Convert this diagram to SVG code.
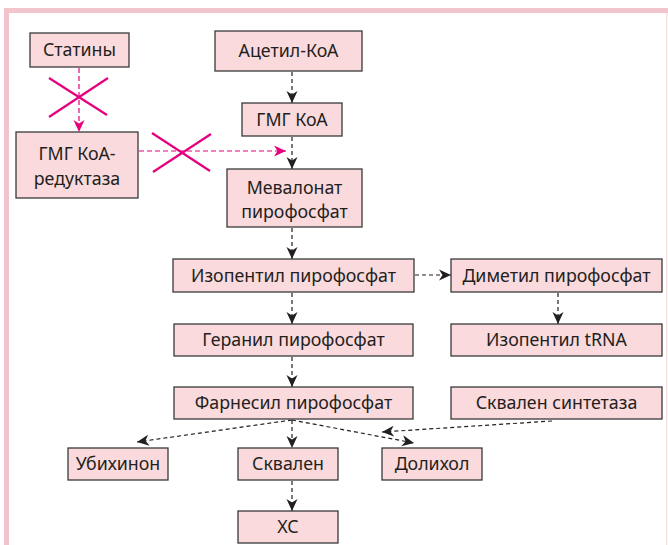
<svg xmlns="http://www.w3.org/2000/svg" width="668" height="545" viewBox="0 0 668 545">
<defs>
<style>
.n rect{fill:#fadadd;stroke:#3a3a3a;stroke-width:1.3}
.n text{font-family:"Noto Sans","Liberation Sans",sans-serif;font-size:17.8px;fill:#231f20;text-anchor:middle}
.c{stroke:#231f20;stroke-width:1.2;stroke-dasharray:4 3;fill:none}
.p{stroke:#e6007e;stroke-width:1.2;stroke-dasharray:5 3;fill:none}
.x{stroke:#e6007e;stroke-width:2.2}
</style>
<marker id="a" markerUnits="userSpaceOnUse" markerWidth="13" markerHeight="13" viewBox="0 0 13 13" refX="12" refY="6.5" orient="auto">
<path d="M0,1 L12,6.5 L0,12 L3.5,6.5 z" fill="#231f20"/>
</marker>
<marker id="ap" markerUnits="userSpaceOnUse" markerWidth="13" markerHeight="13" viewBox="0 0 13 13" refX="12" refY="6.5" orient="auto">
<path d="M0,1 L12,6.5 L0,12 L3.5,6.5 z" fill="#e6007e"/>
</marker>
</defs>
<rect x="0" y="0" width="668" height="545" fill="#fff"/>
<rect x="4" y="8" width="664" height="5" fill="#f2c4cb"/>
<rect x="4" y="8" width="5" height="537" fill="#f2c4cb"/>
<rect x="666" y="13" width="1.5" height="532" fill="#f7dfe2"/>

<g id="connectors">
<line class="c" x1="292" y1="72" x2="292" y2="103" marker-end="url(#a)"/>
<line class="c" x1="292" y1="137" x2="292" y2="169" marker-end="url(#a)"/>
<line class="c" x1="292" y1="228" x2="292" y2="259" marker-end="url(#a)"/>
<line class="c" x1="292" y1="293" x2="292" y2="324" marker-end="url(#a)"/>
<line class="c" x1="292" y1="357" x2="292" y2="387" marker-end="url(#a)"/>
<line class="c" x1="292" y1="420" x2="292" y2="448" marker-end="url(#a)"/>
<line class="c" x1="292" y1="481" x2="292" y2="511" marker-end="url(#a)"/>
<line class="c" x1="415" y1="275" x2="451" y2="275" marker-end="url(#a)"/>
<line class="c" x1="558" y1="293" x2="558" y2="324" marker-end="url(#a)"/>
<line class="c" x1="292" y1="420" x2="137" y2="442" marker-end="url(#a)"/>
<line class="c" x1="292" y1="420" x2="414" y2="443" marker-end="url(#a)"/>
<line class="c" x1="552" y1="421" x2="382" y2="432" marker-end="url(#a)"/>
<line class="p" x1="79" y1="68" x2="79" y2="132" marker-end="url(#ap)"/>
<line class="p" x1="139" y1="151" x2="286" y2="151" marker-end="url(#ap)"/>
<line class="x" x1="49" y1="78" x2="107" y2="115"/>
<line class="x" x1="108" y1="78" x2="49" y2="117"/>
<line class="x" x1="152" y1="133" x2="210" y2="171"/>
<line class="x" x1="211" y1="134" x2="153" y2="172"/>
</g>

<g id="statiny" class="n"><rect x="30" y="33" width="99" height="34"/><text x="79.5" y="56">Статины</text></g>
<g id="acetil" class="n"><rect x="215" y="31" width="147" height="40"/><text x="288.5" y="57">Ацетил-КоА</text></g>
<g id="gmg" class="n"><rect x="242" y="103" width="100" height="33"/><text x="292" y="126">ГМГ КоА</text></g>
<g id="reduktaza" class="n"><rect x="16" y="132" width="122" height="66"/><text x="77" y="160">ГМГ КоА-</text><text x="77" y="185">редуктаза</text></g>
<g id="mevalonat" class="n"><rect x="227" y="169" width="135" height="58"/><text x="294.5" y="194">Мевалонат</text><text x="294.5" y="218">пирофосфат</text></g>
<g id="izopentil" class="n"><rect x="173" y="259" width="241" height="33"/><text x="293.5" y="282">Изопентил пирофосфат</text></g>
<g id="dimetil" class="n"><rect x="451" y="259" width="211" height="33"/><text x="556.5" y="282">Диметил пирофосфат</text></g>
<g id="geranil" class="n"><rect x="174" y="324" width="239" height="32"/><text x="293.5" y="346">Геранил пирофосфат</text></g>
<g id="trna" class="n"><rect x="451" y="324" width="211" height="32"/><text x="556.5" y="346">Изопентил tRNA</text></g>
<g id="farnesil" class="n"><rect x="174" y="387" width="239" height="32"/><text x="293.5" y="409">Фарнесил пирофосфат</text></g>
<g id="sintetaza" class="n"><rect x="451" y="387" width="211" height="32"/><text x="556.5" y="409">Сквален синтетаза</text></g>
<g id="ubihinon" class="n"><rect x="68" y="448" width="100" height="32"/><text x="118" y="470">Убихинон</text></g>
<g id="skvalen" class="n"><rect x="238" y="448" width="100" height="32"/><text x="288" y="470">Сквален</text></g>
<g id="doliHol" class="n"><rect x="382" y="448" width="100" height="32"/><text x="432" y="470">Долихол</text></g>
<g id="xc" class="n"><rect x="238" y="511" width="100" height="32"/><text x="288" y="533">ХС</text></g>
</svg>
